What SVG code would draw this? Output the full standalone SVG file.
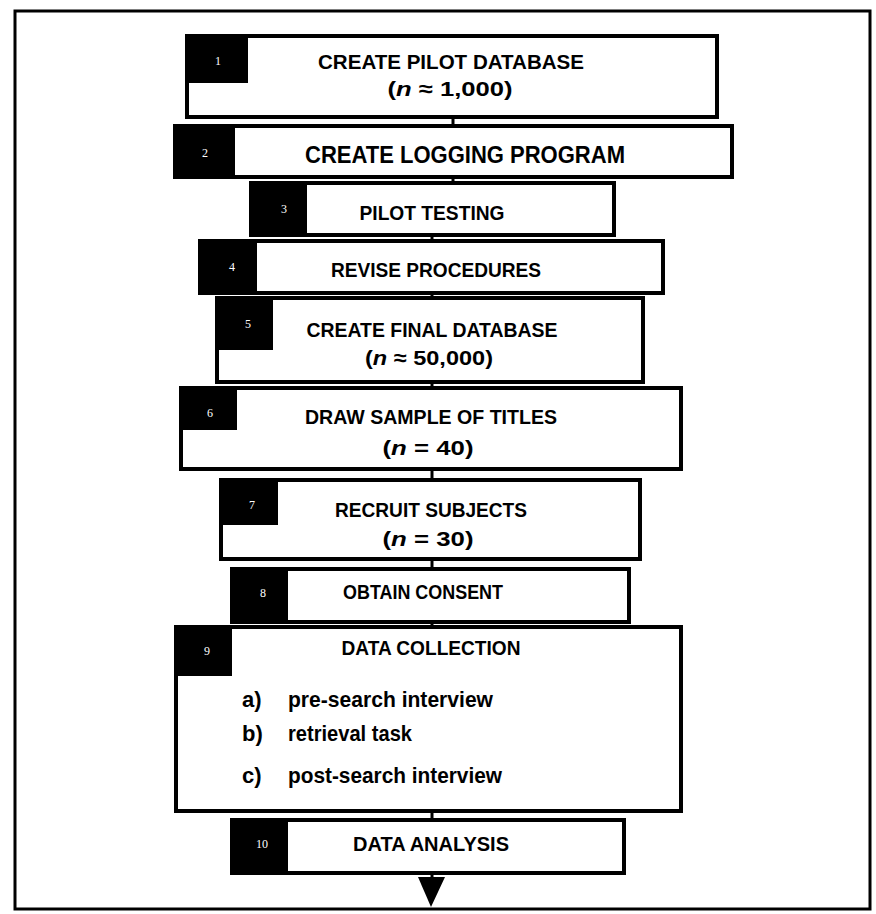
<svg xmlns="http://www.w3.org/2000/svg" width="876" height="914" viewBox="0 0 876 914">
<style>
.box{fill:#fff;stroke:#000;stroke-width:4}
.tab{fill:#000}
.t{font-family:"Liberation Sans",Arial,sans-serif;font-weight:bold;font-size:21px;fill:#000;text-anchor:middle}
.l{font-family:"Liberation Sans",Arial,sans-serif;font-weight:bold;font-size:22px;fill:#000}
.num{font-family:"Liberation Serif","Times New Roman",serif;font-size:12px;fill:#fff;text-anchor:middle}
.con{stroke:#000;stroke-width:3;fill:none}
</style>
<rect x="0" y="0" width="876" height="914" fill="#fff"/>
<rect x="15" y="11" width="855" height="898" fill="none" stroke="#000" stroke-width="3"/>
<g id="connectors">
<line class="con" x1="453" y1="117" x2="453" y2="126"/>
<line class="con" x1="453" y1="177" x2="453" y2="183"/>
<line class="con" x1="432" y1="235" x2="432" y2="241"/>
<line class="con" x1="432" y1="293" x2="432" y2="298"/>
<line class="con" x1="432" y1="382" x2="432" y2="388"/>
<line class="con" x1="432" y1="469" x2="432" y2="480"/>
<line class="con" x1="432" y1="559" x2="432" y2="569"/>
<line class="con" x1="432" y1="622" x2="432" y2="627"/>
<line class="con" x1="432" y1="811" x2="432" y2="820"/>
<line class="con" x1="432" y1="873" x2="432" y2="879"/>
<polygon points="418,877 445,877 431,907" fill="#000"/>
</g>
<g id="node1">
<rect class="box" x="187" y="36" width="530" height="81"/>
<rect class="tab" x="185" y="34" width="63" height="49"/>
<text class="num" x="218" y="65">1</text>
<text class="t" x="451" y="69" textLength="266" lengthAdjust="spacingAndGlyphs">CREATE PILOT DATABASE</text>
<text class="t" x="450" y="96" textLength="125" lengthAdjust="spacingAndGlyphs">(<tspan font-style="italic">n</tspan> ≈ 1,000)</text>
</g>
<g id="node2">
<rect class="box" x="175" y="126" width="557" height="51"/>
<rect class="tab" x="173" y="124" width="62" height="55"/>
<text class="num" x="205" y="157">2</text>
<text class="t" x="465" y="163" style="font-size:23px" textLength="320" lengthAdjust="spacingAndGlyphs">CREATE LOGGING PROGRAM</text>
</g>
<g id="node3">
<rect class="box" x="251" y="183" width="363" height="52"/>
<rect class="tab" x="249" y="181" width="58" height="56"/>
<text class="num" x="284" y="213">3</text>
<text class="t" x="432" y="220" textLength="145" lengthAdjust="spacingAndGlyphs">PILOT TESTING</text>
</g>
<g id="node4">
<rect class="box" x="200" y="241" width="463" height="52"/>
<rect class="tab" x="198" y="239" width="59" height="56"/>
<text class="num" x="232" y="271">4</text>
<text class="t" x="436" y="277" textLength="210" lengthAdjust="spacingAndGlyphs">REVISE PROCEDURES</text>
</g>
<g id="node5">
<rect class="box" x="217" y="298" width="426" height="84"/>
<rect class="tab" x="215" y="296" width="58" height="54"/>
<text class="num" x="248" y="328">5</text>
<text class="t" x="432" y="337" textLength="251" lengthAdjust="spacingAndGlyphs">CREATE FINAL DATABASE</text>
<text class="t" x="429" y="365" textLength="128" lengthAdjust="spacingAndGlyphs">(<tspan font-style="italic">n</tspan> ≈ 50,000)</text>
</g>
<g id="node6">
<rect class="box" x="181" y="388" width="500" height="81"/>
<rect class="tab" x="179" y="386" width="58" height="44"/>
<text class="num" x="210" y="417">6</text>
<text class="t" x="431" y="424" textLength="252" lengthAdjust="spacingAndGlyphs">DRAW SAMPLE OF TITLES</text>
<text class="t" x="428" y="455" textLength="91" lengthAdjust="spacingAndGlyphs">(<tspan font-style="italic">n</tspan> = 40)</text>
</g>
<g id="node7">
<rect class="box" x="221" y="480" width="419" height="79"/>
<rect class="tab" x="219" y="478" width="59" height="47"/>
<text class="num" x="252" y="509">7</text>
<text class="t" x="431" y="517" textLength="192" lengthAdjust="spacingAndGlyphs">RECRUIT SUBJECTS</text>
<text class="t" x="428" y="546" textLength="91" lengthAdjust="spacingAndGlyphs">(<tspan font-style="italic">n</tspan> = 30)</text>
</g>
<g id="node8">
<rect class="box" x="232" y="569" width="397" height="53"/>
<rect class="tab" x="230" y="567" width="58" height="57"/>
<text class="num" x="263" y="597">8</text>
<text class="t" x="423" y="599" textLength="160" lengthAdjust="spacingAndGlyphs">OBTAIN CONSENT</text>
</g>
<g id="node9">
<rect class="box" x="176" y="627" width="505" height="184"/>
<rect class="tab" x="174" y="625" width="58" height="51"/>
<text class="num" x="207" y="655">9</text>
<text class="t" x="431" y="655" textLength="179" lengthAdjust="spacingAndGlyphs">DATA COLLECTION</text>
<text class="l" x="242" y="707">a)</text>
<text class="l" x="288" y="707" textLength="205" lengthAdjust="spacingAndGlyphs">pre-search interview</text>
<text class="l" x="242" y="741">b)</text>
<text class="l" x="288" y="741" textLength="124" lengthAdjust="spacingAndGlyphs">retrieval task</text>
<text class="l" x="242" y="783">c)</text>
<text class="l" x="288" y="783" textLength="214" lengthAdjust="spacingAndGlyphs">post-search interview</text>
</g>
<g id="node10">
<rect class="box" x="232" y="820" width="392" height="53"/>
<rect class="tab" x="230" y="818" width="58" height="57"/>
<text class="num" x="262" y="848">10</text>
<text class="t" x="431" y="851" textLength="156" lengthAdjust="spacingAndGlyphs">DATA ANALYSIS</text>
</g>
</svg>
